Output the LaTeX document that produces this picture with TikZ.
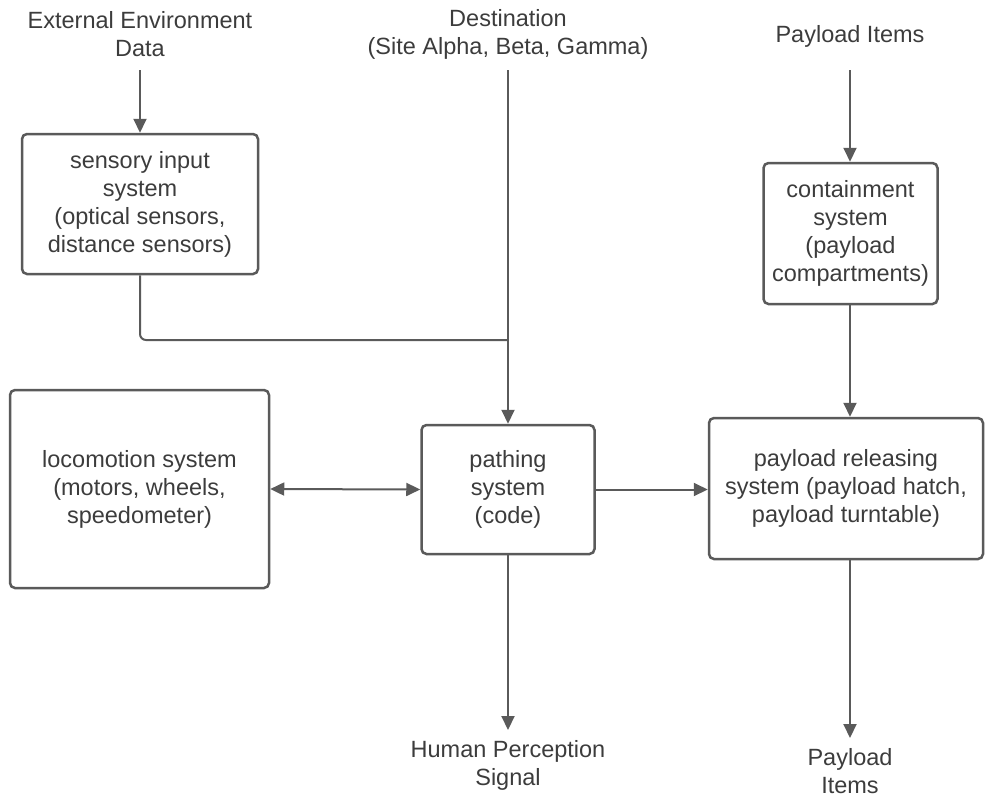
\documentclass[tikz,border=0pt]{standalone}
\usepackage{fontspec}
\setmainfont{Liberation Sans}
\usetikzlibrary{arrows.meta}

\definecolor{linegray}{HTML}{5A5A5A}
\definecolor{textgray}{HTML}{3C3C3C}

\tikzset{
    block/.style={draw=linegray, line width=2.5pt, rounded corners=5pt, rectangle,
        align=center, inner sep=0pt, text=textgray},
    lbl/.style={align=center, inner sep=0pt, text=textgray},
    flow/.style={draw=linegray, line width=2pt, -{Triangle[length=14pt,width=13pt]}},
}

\begin{document}
\begin{tikzpicture}[x=1pt, y=-1pt, font=\fontsize{23.5}{28}\selectfont]
    \useasboundingbox (0,0) rectangle (985,801);

    \node[lbl] (ExtData) at (140,34) {External Environment\\Data};
    \node[lbl] (Dest) at (508,34) {Destination\\(Site Alpha, Beta, Gamma)};
    \node[lbl] (ItemsIn) at (850,36) {Payload Items};
    \node[lbl] (Human) at (508,765) {Human Perception\\Signal};
    \node[lbl] (ItemsOut) at (850,771) {Payload\\Items};

    \node[block, minimum width=236pt, minimum height=140pt] (Sensory) at (140,204) {sensory input\\system\\(optical sensors,\\distance sensors)};
    \node[block, minimum width=259pt, minimum height=198pt] (Locomotion) at (139.5,489) {locomotion system\\(motors, wheels,\\speedometer)};
    \node[block, minimum width=173pt, minimum height=129pt] (Pathing) at (508,489.5) {pathing\\system\\(code)};
    \node[block, minimum width=174pt, minimum height=141pt] (Containment) at (850.5,233.5) {containment\\system\\(payload\\compartments)};
    \node[block, minimum width=274pt, minimum height=141pt] (Release) at (846,488.5) {payload releasing\\system (payload hatch,\\payload turntable)};

    \coordinate (Join) at (508,340);

    \draw[flow] (ExtData.south |- 0,70) -- (Sensory.north);
    \draw[flow] (Dest.south |- 0,70) -- (Pathing.north);
    \draw[draw=linegray, line width=2pt, rounded corners=6pt] (Sensory.south) |- (Join);
    \draw[flow] (ItemsIn.south |- 0,70) -- (Containment.north -| ItemsIn.south);
    \draw[flow] (Containment.south -| ItemsIn.south) -- (Release.north -| ItemsIn.south);
    \draw[flow, {Triangle[length=14pt,width=13pt]}-{Triangle[length=14pt,width=13pt]}] (Locomotion.east) -- (Pathing.west);
    \draw[flow] (Pathing.east) -- (Release.west |- Pathing.east);
    \draw[flow] (Pathing.south) -- (Human.north |- 0,730);
    \draw[flow] (Release.south -| ItemsOut.north) -- (ItemsOut.north |- 0,738);
\end{tikzpicture}
\end{document}
